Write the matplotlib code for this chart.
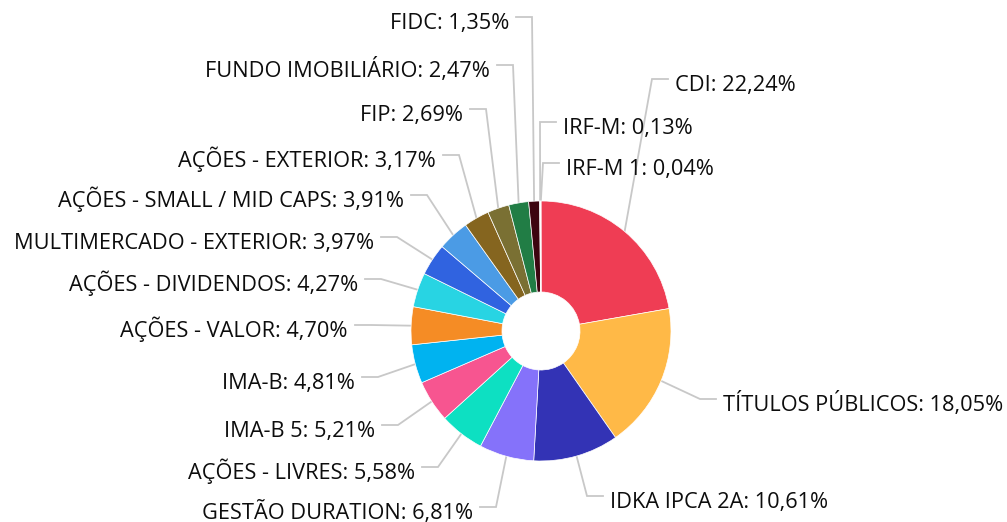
import numpy as np
import matplotlib; matplotlib.use("Agg")
import matplotlib.pyplot as plt

W, H = 1007, 522

labels = ["CDI", "TÍTULOS PÚBLICOS", "IDKA IPCA 2A", "GESTÃO DURATION", "AÇÕES - LIVRES",
          "IMA-B 5", "IMA-B", "AÇÕES - VALOR", "AÇÕES - DIVIDENDOS", "MULTIMERCADO - EXTERIOR",
          "AÇÕES - SMALL / MID CAPS", "AÇÕES - EXTERIOR", "FIP", "FUNDO IMOBILIÁRIO", "FIDC",
          "IRF-M", "IRF-M 1"]
values = [22.24, 18.05, 10.61, 6.81, 5.58, 5.21, 4.81, 4.70, 4.27, 3.97, 3.91, 3.17, 2.69,
          2.47, 1.35, 0.13, 0.04]
colors = ["#ef3d54", "#ffb947", "#3333b5", "#8572fa", "#0de0c2", "#f75590", "#00b3f0",
          "#f58c25", "#28d4e3", "#3063e0", "#4b9be5", "#85651f", "#7a7033", "#217d45",
          "#3d0510", "#8a8a8a", "#2ab0b0"]

# label layout in pixels: elbow x, line y, side (+1 right / -1 left)
elbow_x = [652, 700, 587, 496, 438, 398, 378, 371, 381, 397, 427, 459, 486, 513, 532, 540, 543]
line_y = [79, 399, 496, 507, 467, 425, 377, 325, 279, 237, 195, 155, 109, 65, 17, 122, 163]
side = [1, 1, 1, -1, -1, -1, -1, -1, -1, -1, -1, -1, -1, -1, -1, 1, 1]

cx, cy, R, r_in = 541, 331, 130, 39

plt.rcParams['font.family'] = ['Open Sans', 'DejaVu Sans']
fig = plt.figure(figsize=(W/100, H/100), dpi=100)
ax = fig.add_axes([0, 0, 1, 1])
ax.pie(values, colors=colors, radius=R, center=(cx, H-cy), startangle=90, counterclock=False,
       wedgeprops=dict(width=R-r_in, edgecolor="white", linewidth=0.5))
ax.set_xlim(0, W); ax.set_ylim(0, H); ax.set_aspect("equal"); ax.axis("off")

cum = np.cumsum([0]+values[:-1]); tot = sum(values)
for i, lab in enumerate(labels):
    a = 2*np.pi*(cum[i]+values[i]/2)/tot
    ex, ey = cx+R*np.sin(a), cy-R*np.cos(a)
    ox = elbow_x[i]+16*side[i]
    ax.plot([ex, elbow_x[i], ox], [H-ey, H-line_y[i], H-line_y[i]], color="#c8c8c8", lw=1.3,
            solid_joinstyle="miter", zorder=0)
    txt = f"{lab}: {values[i]:.2f}%".replace(".", ",")
    ax.text(ox+7*side[i], H-line_y[i]-12, txt, ha="left" if side[i] > 0 else "right",
            va="baseline", fontsize=15.65, color="#0d0d0d")

fig.savefig("out.png", dpi=100)
